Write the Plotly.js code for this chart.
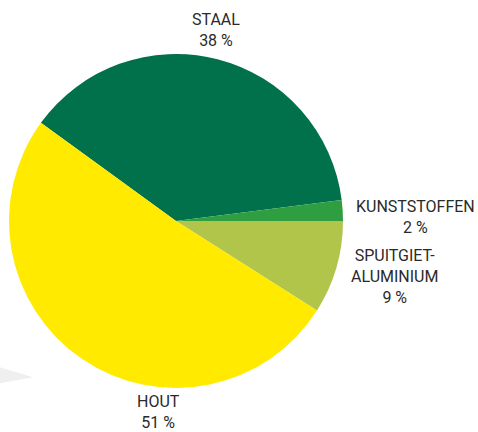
<!DOCTYPE html>
<html>
<head>
<meta charset="utf-8">
<script src="https://cdn.plot.ly/plotly-3.0.1.min.js"></script>
<style>html,body{margin:0;padding:0;background:#fff;}#chart{width:478px;height:432px;}</style>
</head>
<body>
<div id="chart"></div>
<script>
const categories = ["STAAL", "KUNSTSTOFFEN", "SPUITGIET-<br>ALUMINIUM", "HOUT"];
const values = [38, 2, 9, 51];
const colors = ["#00714A", "#2F9E41", "#B1C54B", "#FFEA00"];
// label anchor positions (paper coords) for each category
const labelX = [0.452, 0.870, 0.826, 0.331];
const labelY = [0.930, 0.497, 0.360, 0.046];

const font = {family: "Roboto, 'DejaVu Sans Condensed', sans-serif", size: 16, color: "#2a2a2a"};

const annotations = categories.map((c, i) => ({
  text: c + "<br>" + values[i] + " %",
  x: labelX[i], y: labelY[i], xref: "paper", yref: "paper",
  xanchor: "center", yanchor: "middle", showarrow: false,
  align: "center", font: font
}));

const trace = {
  type: "pie",
  labels: categories,
  values: values,
  sort: false,
  direction: "clockwise",
  rotation: -54,
  marker: {colors: colors, line: {width: 0}},
  textinfo: "none",
  hoverinfo: "label+percent",
  domain: {x: [9/478, 343/478], y: [1 - 388/432, 1 - 54/432]},
  showlegend: false
};

const layout = {
  width: 478, height: 432,
  margin: {l: 0, r: 0, t: 0, b: 0},
  paper_bgcolor: "#ffffff",
  showlegend: false,
  annotations: annotations,
  shapes: [{
    type: "path", xref: "paper", yref: "paper",
    path: "M 0 0.150 L 0.069 0.127 L 0 0.113 Z",
    fillcolor: "rgba(220,220,220,0.45)", line: {width: 0}, layer: "below"
  }]
};

Plotly.newPlot("chart", [trace], layout, {staticPlot: true});
</script>
</body>
</html>
